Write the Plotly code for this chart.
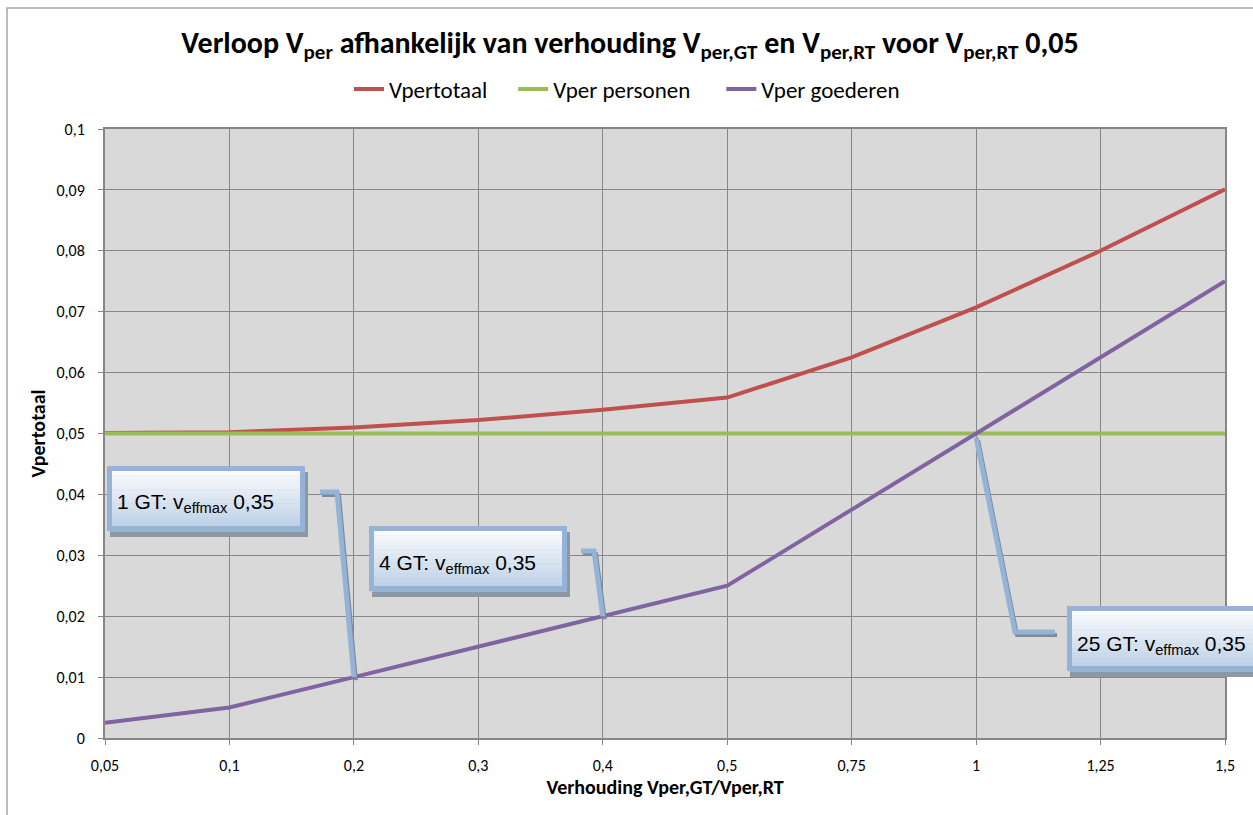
import plotly.graph_objects as go

# ---------------- data ----------------
categories = ["0,05", "0,1", "0,2", "0,3", "0,4", "0,5", "0,75", "1", "1,25", "1,5"]
vper_totaal = [0.0501, 0.0502, 0.0510, 0.0522, 0.0539, 0.0559, 0.0625, 0.0707, 0.0800, 0.0901]
vper_personen = [0.05, 0.05, 0.05, 0.05, 0.05, 0.05, 0.05, 0.05, 0.05, 0.05]
vper_goederen = [0.0025, 0.005, 0.01, 0.015, 0.02, 0.025, 0.0375, 0.05, 0.0625, 0.075]

series_names = ["Vpertotaal", "Vper personen", "Vper goederen"]
callout_texts = ["1 GT: v<sub>effmax</sub> 0,35", "4 GT: v<sub>effmax</sub> 0,35", "25 GT: v<sub>effmax</sub> 0,35"]
callout_points = [2, 4, 7]  # category index on the goederen series

# ---------------- geometry ----------------
W, H = 1253, 815
PL, PR, PT, PB = 105, 1225, 129, 738  # plot area in pixels
YMAX = 0.1


def px(x):
    return (x - PL) / (PR - PL)


def py(y):
    return (PB - y) / (PB - PT)


def data_xy(i, v):
    return i / (len(categories) - 1), v / YMAX


FONT = "Carlito, Lato, sans-serif"
BLUE = "#95B3D7"
NB = "\u00a0"

fig = go.Figure()
fig.add_trace(go.Scatter(x=categories, y=vper_totaal, mode="lines", name=series_names[0] + NB * 4,
                         line=dict(color="#C0504D", width=4)))
fig.add_trace(go.Scatter(x=categories, y=vper_personen, mode="lines", name=series_names[1] + NB * 5,
                         line=dict(color="#9BBB59", width=4)))
fig.add_trace(go.Scatter(x=categories, y=vper_goederen, mode="lines", name=series_names[2],
                         line=dict(color="#8064A2", width=4)))

shapes = []
annotations = []

# outer chart border
shapes.append(dict(type="rect", xref="paper", yref="paper", x0=px(7), x1=px(1270), y0=py(8), y1=py(830),
                   line=dict(color="#A6A6A6", width=1.5), fillcolor="rgba(0,0,0,0)", layer="below"))


def lerp_color(c0, c1, t):
    a = [int(c0[i:i + 2], 16) for i in (1, 3, 5)]
    b = [int(c1[i:i + 2], 16) for i in (1, 3, 5)]
    return "#%02x%02x%02x" % tuple(round(a[k] + (b[k] - a[k]) * t) for k in range(3))


def callout(x0, y0, x1, y1, text, tx, ty, leader_pts):
    def path(pts, dx=0, dy=0):
        s = ""
        for k, (a, b) in enumerate(pts):
            s += ("M" if k == 0 else "L") + f"{a + px(PL + dx) - px(PL)},{b + py(PT + dy) - py(PT)} "
        return s

    # leader (shadow + line)
    shapes.append(dict(type="path", xref="paper", yref="paper", path=path(leader_pts, 2, 3),
                       line=dict(color="#7F8A99", width=4)))
    shapes.append(dict(type="path", xref="paper", yref="paper", path=path(leader_pts),
                       line=dict(color=BLUE, width=5)))
    # box shadow
    shapes.append(dict(type="rect", xref="paper", yref="paper", x0=px(x0 + 3), x1=px(x1 + 3),
                       y0=py(y0 + 6), y1=py(y1 + 6), line=dict(width=0), fillcolor="#8D98A6"))
    # gradient fill
    n = 14
    for k in range(n):
        ya = y0 + (y1 - y0) * k / n
        yb = y0 + (y1 - y0) * (k + 1) / n
        col = lerp_color("#FFFFFF", "#B9CDE5", (k + 0.5) / n)
        shapes.append(dict(type="rect", xref="paper", yref="paper", x0=px(x0), x1=px(x1),
                           y0=py(ya), y1=py(yb + 0.5), line=dict(width=0), fillcolor=col))
    # border
    shapes.append(dict(type="rect", xref="paper", yref="paper", x0=px(x0 + 2.5), x1=px(x1 - 2.5),
                       y0=py(y0 + 2.5), y1=py(y1 - 2.5), line=dict(color=BLUE, width=5),
                       fillcolor="rgba(0,0,0,0)"))
    annotations.append(dict(text=text, xref="paper", yref="paper", x=px(tx), y=py(ty),
                            xanchor="left", yanchor="middle", showarrow=False,
                            font=dict(family="Liberation Sans, Arial, sans-serif", size=21, color="#000000")))


p1 = data_xy(callout_points[0], vper_goederen[callout_points[0]])
callout(107, 466, 305, 531, callout_texts[0], 115, 503,
        [(px(320), py(492)), (px(337), py(492)), p1])
p2 = data_xy(callout_points[1], vper_goederen[callout_points[1]])
callout(369, 526, 567, 591, callout_texts[1], 377, 564,
        [(px(581), py(551)), (px(594), py(551)), p2])
p3 = data_xy(callout_points[2], vper_goederen[callout_points[2]])
callout(1067, 606, 1270, 671, callout_texts[2], 1075, 645,
        [(p3[0], p3[1] - 4 / (PB - PT)), (px(1015), py(632)), (px(1055), py(632))])

fig.update_layout(
    width=W, height=H,
    margin=dict(l=PL, r=W - PR, t=PT, b=H - PB, autoexpand=False),
    paper_bgcolor="white",
    plot_bgcolor="#D9D9D9",
    separators=", ",
    font=dict(family=FONT, color="#000000"),
    title=dict(
        text="Verloop V<sub>per</sub> afhankelijk van verhouding V<sub>per,GT</sub> en V<sub>per,RT</sub> voor V<sub>per,RT</sub> 0,05",
        xref="container", x=630 / W, xanchor="center",
        yref="container", y=1 - 42 / H, yanchor="middle",
        font=dict(family=FONT, size=30, color="#000000", weight="bold"),
    ),
    legend=dict(orientation="h", xref="container", x=627 / W, xanchor="center",
                yref="container", y=1 - 89 / H, yanchor="middle",
                font=dict(family=FONT, size=23, color="#000000"),
                bgcolor="rgba(0,0,0,0)", itemwidth=30, tracegroupgap=0),
    xaxis=dict(type="category", range=[0, len(categories) - 1],
               showgrid=True, gridcolor="#878787", gridwidth=1,
               showline=True, linecolor="#868686", linewidth=2, mirror=True,
               ticks="outside", ticklen=5, tickcolor="#868686",
               ticklabelstandoff=7,
               tickfont=dict(family=FONT, size=16, color="#000000"),
               title=dict(text="<b>Verhouding Vper,GT/Vper,RT</b>", standoff=1,
                          font=dict(family=FONT, size=20, color="#000000"))),
    yaxis=dict(range=[0, YMAX], dtick=0.01, tick0=0,
               showgrid=True, gridcolor="#878787", gridwidth=1,
               showline=True, linecolor="#868686", linewidth=2, mirror=True,
               ticks="outside", ticklen=5, tickcolor="#868686",
               ticklabelstandoff=10, zeroline=False,
               tickfont=dict(family=FONT, size=16, color="#000000"),
               title=dict(text="<b>Vpertotaal</b>", standoff=5,
                          font=dict(family=FONT, size=20, color="#000000"))),
    shapes=shapes,
    annotations=annotations,
)

fig.write_html("out.html", config={"displayModeBar": False},
               post_script="document.body.style.margin='0';document.body.style.overflow='hidden';")
